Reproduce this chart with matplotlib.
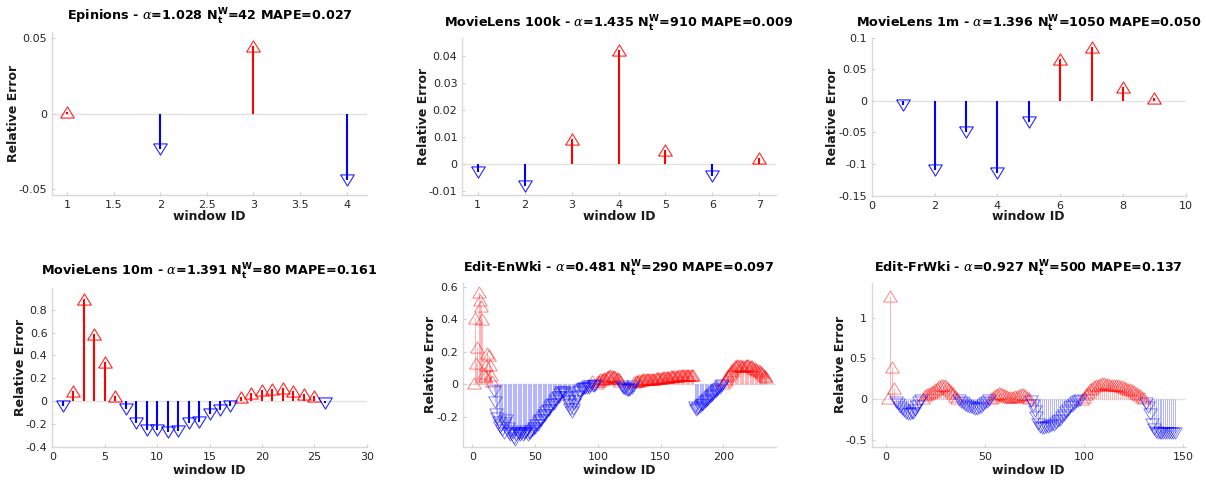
import numpy as np
import matplotlib
matplotlib.use('Agg')
import matplotlib.pyplot as plt
from matplotlib.ticker import FuncFormatter, FixedLocator

plt.rcParams['font.family'] = 'DejaVu Sans'
plt.rcParams['mathtext.fontset'] = 'custom'
plt.rcParams['mathtext.rm'] = 'DejaVu Sans:bold'
plt.rcParams['mathtext.bf'] = 'DejaVu Sans:bold'
plt.rcParams['mathtext.it'] = 'DejaVu Serif:italic'

# ---------------- data ----------------
names = ['Epinions', 'MovieLens 100k', 'MovieLens 1m',
         'MovieLens 10m', 'Edit-EnWki', 'Edit-FrWki']
alphas = ['1.028', '1.435', '1.396', '1.391', '0.481', '0.927']
n_w = ['42', '910', '1050', '80', '290', '500']
mapes = ['0.027', '0.009', '0.050', '0.161', '0.097', '0.137']

epinions = [0.0013, -0.0233, 0.0447, -0.0440]
ml100k = [-0.0031, -0.0082, 0.0093, 0.0422, 0.0051, -0.0045, 0.0020]
ml1m = [-0.006, -0.109, -0.049, -0.114, -0.034, 0.067, 0.085, 0.022, 0.005]
ml10m = [-0.045, 0.09, 0.89, 0.59, 0.34, 0.045, -0.07, -0.19, -0.25, -0.255,
         -0.27, -0.26, -0.19, -0.18, -0.11, -0.08, -0.04, 0.035, 0.072,
         0.098, 0.104, 0.11, 0.084, 0.064, 0.04, -0.02]

enwiki = [
    0.01, 0.41, 0.13, 0.23, 0.57, 0.52, 0.48, 0.40, 0.07, 0.05, 0.12, 0.19,
    0.18, 0.12, 0.06, 0.02,
    -0.04, -0.11, -0.18, -0.21, -0.23, -0.26, -0.25, -0.28, -0.30, -0.24,
    -0.22, -0.27, -0.30, -0.31, -0.29, -0.30, -0.33, -0.34, -0.31, -0.30,
    -0.30, -0.31, -0.30, -0.31, -0.30, -0.30, -0.29, -0.31, -0.30, -0.30,
    -0.29, -0.28,
    -0.27, -0.27, -0.25, -0.25, -0.23, -0.22, -0.22, -0.20, -0.19, -0.19,
    -0.17, -0.16, -0.16, -0.14, -0.13, -0.12, -0.12, -0.10, -0.09, -0.08,
    -0.08, -0.06, -0.05, -0.05,
    -0.05, -0.06, -0.08, -0.10, -0.13, -0.15, -0.17, -0.15, -0.12, -0.10,
    -0.08, -0.07, -0.05, -0.04, -0.03, -0.03, -0.02, -0.02, -0.02, -0.01,
    -0.02, -0.01, 0.02, -0.01, -0.01, -0.005,
    0.01, 0.02, 0.02, 0.03, 0.03, 0.035, 0.04, 0.04, 0.045, 0.05, 0.05,
    0.055, 0.05, 0.05, 0.05, 0.045, 0.04, 0.04, 0.03, 0.02,
    -0.01, -0.02, -0.02, -0.03, -0.035, -0.035, -0.035, -0.03, -0.02, -0.01,
    0.015, 0.02, 0.02, 0.02, 0.025, 0.025, 0.025, 0.03, 0.03, 0.03, 0.03,
    0.03, 0.035, 0.035, 0.035, 0.035, 0.035, 0.04, 0.04, 0.04, 0.04, 0.04,
    0.04, 0.045, 0.045, 0.045, 0.045, 0.045, 0.045, 0.05, 0.05, 0.05, 0.05,
    0.05, 0.05, 0.05, 0.055, 0.055, 0.055, 0.055, 0.055, 0.055, 0.06, 0.06,
    0.06, 0.06, 0.06, 0.055,
    -0.14, -0.16, -0.15, -0.145, -0.14, -0.13, -0.125, -0.12, -0.11, -0.10,
    -0.095, -0.09, -0.08, -0.07, -0.065, -0.06, -0.05, -0.04, -0.035, -0.03,
    -0.02, -0.01, -0.005,
    0.01, 0.02, 0.035, 0.05, 0.06, 0.07, 0.08, 0.09, 0.10, 0.11, 0.115,
    0.12, 0.12, 0.12, 0.115, 0.11, 0.11, 0.115, 0.12, 0.12, 0.12, 0.115,
    0.11, 0.11, 0.10, 0.10, 0.095, 0.09, 0.085, 0.08, 0.075, 0.07, 0.06,
    0.05, 0.045,
]

frwiki = [
    0.02, 1.26, 0.39, 0.14,
    -0.03, -0.06, -0.09, -0.12, -0.15, -0.17, -0.18, -0.18, -0.17, -0.17,
    -0.13, -0.08, -0.04, -0.01,
    0.02, 0.05, 0.07, 0.08, 0.09, 0.10, 0.12, 0.14, 0.16, 0.18, 0.18, 0.17,
    0.15, 0.12, 0.10, 0.08, 0.04, 0.01,
    -0.01, -0.03, -0.05, -0.07, -0.08, -0.09, -0.10, -0.11, -0.12, -0.12,
    -0.11, -0.09, -0.07, -0.05, -0.03, -0.01,
    0.01, 0.03, 0.05, 0.07, 0.08, 0.08, 0.07, 0.05, 0.04, 0.03, 0.03, 0.03,
    0.04, 0.04, 0.05, 0.06, 0.06, 0.05, 0.03, 0.01,
    -0.02, -0.07, -0.14, -0.22, -0.30, -0.34, -0.35, -0.35, -0.34, -0.34,
    -0.33, -0.32, -0.31, -0.29, -0.27, -0.25, -0.22, -0.19, -0.16, -0.13,
    -0.10, -0.08, -0.06, -0.04, -0.02, -0.01,
    0.0, 0.03, 0.06, 0.09, 0.12, 0.14, 0.16, 0.17, 0.18, 0.19, 0.20, 0.20,
    0.19, 0.19, 0.18, 0.18, 0.18, 0.17, 0.17, 0.16, 0.16, 0.15, 0.14, 0.13,
    0.12, 0.11, 0.10, 0.08, 0.07, 0.05, 0.03, 0.01,
    -0.05, -0.09, -0.18, -0.30, -0.37, -0.40, -0.42, -0.42, -0.42, -0.42,
    -0.42, -0.42, -0.41, -0.41, -0.41, -0.42,
]

series = [epinions, ml100k, ml1m, ml10m, enwiki, frwiki]

xticks = [[1, 1.5, 2, 2.5, 3, 3.5, 4], [1, 2, 3, 4, 5, 6, 7],
          [0, 2, 4, 6, 8, 10], [0, 5, 10, 15, 20, 25, 30],
          [0, 50, 100, 150, 200], [0, 50, 100, 150]]
yticks = [[-0.05, 0, 0.05], [-0.01, 0, 0.01, 0.02, 0.03, 0.04],
          [-0.15, -0.1, -0.05, 0, 0.05, 0.1],
          [-0.4, -0.2, 0, 0.2, 0.4, 0.6, 0.8],
          [-0.2, 0, 0.2, 0.4, 0.6], [-0.5, 0, 0.5, 1]]
xlims = [(0.836, 4.22), (0.67, 7.35), (0, 10), (0, 30), (-7.7, 241.7), (-7.06, 151.2)]
ylims = [(-0.0538, 0.0538), (-0.0116, 0.0467), (-0.15, 0.1), (-0.4, 0.99),
         (-0.384, 0.623), (-0.582, 1.425)]

# ---------------- layout (pixels) ----------------
W, H = 1206, 482
boxes = [(52, 32, 367, 195), (462.3, 37.7, 775.7, 195), (871.7, 37.7, 1185.7, 195.7),
         (52.3, 288, 366.7, 446.7), (462.7, 283, 775.7, 446.7), (871.7, 283, 1185.7, 446.7)]
title_base = [21, 27.3, 27.3, 276, 273.3, 272.7]
ylab_x = [13, 422.7, 831.7, 20, 430, 839]
xlab_y = [217.5, 217.5, 217.5, 471.5, 471.5, 471.5]

up = [(-1, -0.82), (1, -0.82), (0, 0.82), (-1, -0.82)]
down = [(-1, 0.82), (1, 0.82), (0, -0.82), (-1, 0.82)]

fig = plt.figure(figsize=(W / 100, H / 100), dpi=100)
fmt = FuncFormatter(lambda v, p: '%g' % round(v, 6))

for i, vals in enumerate(series):
    l, t, r, b = boxes[i]
    ax = fig.add_axes([l / W, 1 - b / H, (r - l) / W, (b - t) / H])
    v = np.array(vals, dtype=float)
    x = np.arange(1, len(v) + 1)
    pos = v >= 0
    neg = ~pos
    dense = len(v) > 50
    s_alpha, s_lw = (0.28, 0.75) if dense else (1.0, 1.5)
    m_alpha, m_lw = (0.55, 0.6) if dense else (0.85, 0.8)
    ax.axhline(0, color='#e2e2e2', lw=1.0, zorder=0)
    ax.vlines(x[pos], 0, v[pos], colors=(1, 0, 0), lw=s_lw, alpha=s_alpha, zorder=2)
    ax.vlines(x[neg], 0, v[neg], colors=(0, 0, 1), lw=s_lw, alpha=s_alpha, zorder=2)
    ax.plot(x[pos], v[pos], linestyle='none', marker=up, ms=9.8, mfc='none',
            mec=(1, 0, 0), mew=m_lw, alpha=m_alpha, zorder=3)
    ax.plot(x[neg], v[neg], linestyle='none', marker=down, ms=9.8, mfc='none',
            mec=(0, 0, 1), mew=m_lw, alpha=m_alpha, zorder=3)
    ax.set_xlim(*xlims[i])
    ax.set_ylim(*ylims[i])
    ax.xaxis.set_major_locator(FixedLocator(xticks[i]))
    ax.yaxis.set_major_locator(FixedLocator(yticks[i]))
    ax.xaxis.set_major_formatter(fmt)
    ax.yaxis.set_major_formatter(fmt)
    for s in ('top', 'right'):
        ax.spines[s].set_visible(False)
    for s in ('left', 'bottom'):
        ax.spines[s].set_color('#d9d9d9')
        ax.spines[s].set_linewidth(1.0)
    ax.tick_params(direction='in', length=2.5, width=0.8, color='#d0d0d0',
                   labelsize=8, labelcolor='#262626', pad=3.5)
    ax.set_xlabel('window ID', fontsize=9, fontweight='bold', color='#1a1a1a')
    ax.set_ylabel('Relative Error', fontsize=9, fontweight='bold', color='#1a1a1a')
    ax.xaxis.set_label_coords(0.5, -(xlab_y[i] - 7 - b) / (b - t))
    ax.yaxis.set_label_coords((ylab_x[i] + 7.5 - l) / (r - l), 0.5)
    title = (names[i] + r' - $\alpha$=' + alphas[i] + r' N$_{\mathbf{t}}^{\mathbf{W}}$='
             + n_w[i] + ' MAPE=' + mapes[i])
    fig.text((l + r) / 2 / W, 1 - title_base[i] / H, title, ha='center',
             va='baseline', fontsize=9.2, fontweight='bold', color='black')

fig.savefig('out.png', dpi=100)
